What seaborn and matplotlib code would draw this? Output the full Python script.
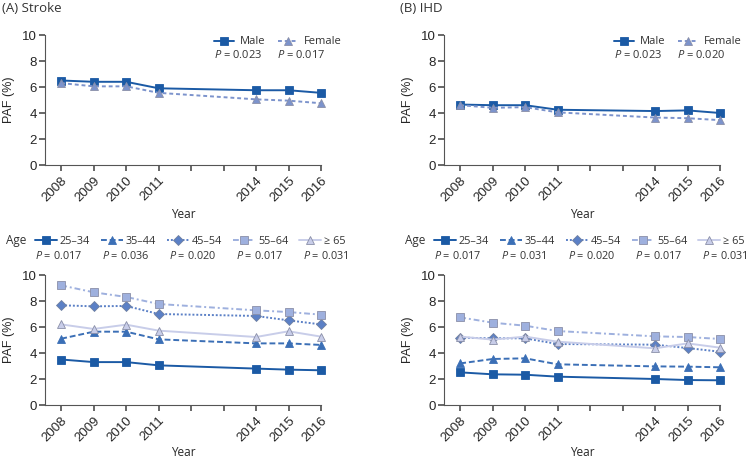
import pandas as pd
import seaborn as sns
import matplotlib.pyplot as plt

# Jahre und Werte
years = [2008, 2009, 2010, 2011, 2014, 2015, 2016]
all_ticks = list(range(2008, 2017))

stroke_male = [6.5, 6.4, 6.4, 5.9, 5.75, 5.75, 5.55]
stroke_female = [6.3, 6.05, 6.05, 5.55, 5.05, 4.95, 4.75]
ihd_male = [4.65, 4.6, 4.6, 4.25, 4.15, 4.2, 4.0]
ihd_female = [4.6, 4.4, 4.45, 4.05, 3.65, 3.6, 3.45]

sexes = ['Male', 'Female']
age_groups = ['25–34', '35–44', '45–54', '55–64', '≥ 65']
stroke_age = {
    '25–34': [3.5, 3.3, 3.3, 3.05, 2.8, 2.72, 2.67],
    '35–44': [5.1, 5.64, 5.64, 5.05, 4.74, 4.74, 4.62],
    '45–54': [7.67, 7.59, 7.62, 7.0, 6.85, 6.51, 6.2],
    '55–64': [9.2, 8.67, 8.31, 7.77, 7.28, 7.15, 6.95],
    '≥ 65': [6.2, 5.85, 6.18, 5.72, 5.23, 5.67, 5.26],
}
ihd_age = {
    '25–34': [2.51, 2.36, 2.33, 2.18, 2.0, 1.92, 1.9],
    '35–44': [3.2, 3.54, 3.59, 3.13, 2.97, 2.95, 2.9],
    '45–54': [5.18, 5.13, 5.13, 4.69, 4.64, 4.38, 4.1],
    '55–64': [6.74, 6.33, 6.1, 5.69, 5.28, 5.23, 5.08],
    '≥ 65': [5.26, 5.03, 5.26, 4.87, 4.36, 4.74, 4.41],
}

p_sex_stroke = ['0.023', '0.017']
p_sex_ihd = ['0.023', '0.020']
p_age_stroke = ['0.017', '0.036', '0.020', '0.017', '0.031']
p_age_ihd = ['0.017', '0.031', '0.020', '0.017', '0.031']

# Stil je Serie
styles = {
    'Male': dict(color='#1b5aa5', ls='-', marker='s', mec='#1b5aa5'),
    'Female': dict(color='#7c93cc', ls=(0, (2, 1.5)), marker='^', mec='#8a8fa8'),
    '25–34': dict(color='#1b5aa5', ls='-', marker='s', mec='#1b5aa5'),
    '35–44': dict(color='#3b6fb6', ls=(0, (3, 1.5)), marker='^', mec='#3b6fb6'),
    '45–54': dict(color='#5b80c6', ls=(0, (1, 1)), marker='D', mec='#7080a0'),
    '55–64': dict(color='#9eb0de', ls=(0, (3, 1.5, 1, 1.5)), marker='s', mec='#8a8fa8'),
    '≥ 65': dict(color='#c8cde9', ls='-', marker='^', mec='#8a8fa8'),
}

sns.set_theme(style='ticks')
plt.rcParams['font.family'] = ['Liberation Sans', 'DejaVu Sans']
plt.rcParams['text.color'] = '#333333'
plt.rcParams['mathtext.fontset'] = 'custom'
plt.rcParams['mathtext.it'] = 'Open Sans:italic'
plt.rcParams['mathtext.rm'] = 'Open Sans'

HUM = ['Open Sans', 'DejaVu Sans']
fig = plt.figure(figsize=(7.47, 4.59), dpi=100)
W, H = 747, 459


def make_ax(x0, y_top):
    return fig.add_axes([x0 / W, (H - y_top - 130) / H, 276 / W, 130 / H])


def style_ax(ax, label_y):
    ax.set_xlim(2007.5, 2016)
    ax.set_ylim(0, 10)
    ax.set_xticks(all_ticks)
    ax.set_xticklabels([str(y) if y in years else '' for y in all_ticks],
                       rotation=45, ha='right', rotation_mode='anchor', fontsize=9.5)
    ax.set_yticks([0, 2, 4, 6, 8, 10])
    ax.tick_params(axis='y', labelsize=9.5, length=4, color='#555555', pad=2)
    ax.tick_params(axis='x', length=4, color='#555555', pad=3)
    ax.set_xlabel('Year', fontsize=8.5, family=HUM, va='center')
    ax.xaxis.set_label_coords(0.5, label_y)
    ax.set_ylabel('PAF (%)', fontsize=9, labelpad=5)
    for s in ['left', 'bottom']:
        ax.spines[s].set_color('#555555')
        ax.spines[s].set_linewidth(0.8)
    sns.despine(ax=ax)


def draw(ax, name, vals):
    st = styles[name]
    df = pd.DataFrame({'Year': years, 'PAF': vals})
    sns.lineplot(data=df, x='Year', y='PAF', ax=ax, color=st['color'], marker=st['marker'],
                 markersize=5.5 if st['marker'] != 'D' else 5, markeredgecolor=st['mec'],
                 markeredgewidth=0.6, linewidth=1.4, label=name, clip_on=False)
    ax.lines[-1].set_linestyle(st['ls'])


# obere Reihe: Geschlecht
top = [
    (45, '(A) Stroke', 2, [stroke_male, stroke_female], p_sex_stroke, 214),
    (444, '(B) IHD', 400, [ihd_male, ihd_female], p_sex_ihd, 614),
]
for x0, title, tx, series, pv, lx in top:
    ax = make_ax(x0, 35)
    for name, vals in zip(sexes, series):
        draw(ax, name, vals)
    style_ax(ax, (165 - 214) / 130)
    ax.legend(loc='center left', bbox_to_anchor=((lx - x0) / 276, 1 - 7 / 130),
              ncol=2, frameon=False, prop={'family': HUM, 'size': 8},
              handlelength=1.8, handletextpad=0.5, columnspacing=1.2,
              borderaxespad=0, borderpad=0)
    for i, p in enumerate(pv):
        fig.text((lx + i * 63) / W, 1 - 55 / H, f'$P$ = {p}', fontsize=8,
                 va='center', ha='left', family=HUM)
    fig.text(tx / W, 1 - 8 / H, title, fontsize=9.5, va='center', ha='left', family=HUM)

# untere Reihe: Altersgruppen
bottom = [
    (45, stroke_age, p_age_stroke, 6, 35),
    (444, ihd_age, p_age_ihd, 405, 434),
]
for x0, data, pv, agex, lx in bottom:
    ax = make_ax(x0, 275)
    for name in age_groups:
        draw(ax, name, data[name])
    style_ax(ax, (405 - 453) / 130)
    ax.legend(loc='center left', bbox_to_anchor=((lx - x0) / 276, 1 + 34 / 130),
              ncol=5, frameon=False, prop={'family': HUM, 'size': 7.8},
              handlelength=2.0, handletextpad=0.3, columnspacing=1.0,
              borderaxespad=0, borderpad=0)
    fig.text(agex / W, 1 - 241 / H, 'Age', fontsize=8.5, va='center', ha='left', family=HUM)
    for i, p in enumerate(pv):
        fig.text((lx + i * 67) / W, 1 - 256 / H, f'$P$ = {p}', fontsize=7.8,
                 va='center', ha='left', family=HUM)

fig.savefig('out.png', dpi=100)
